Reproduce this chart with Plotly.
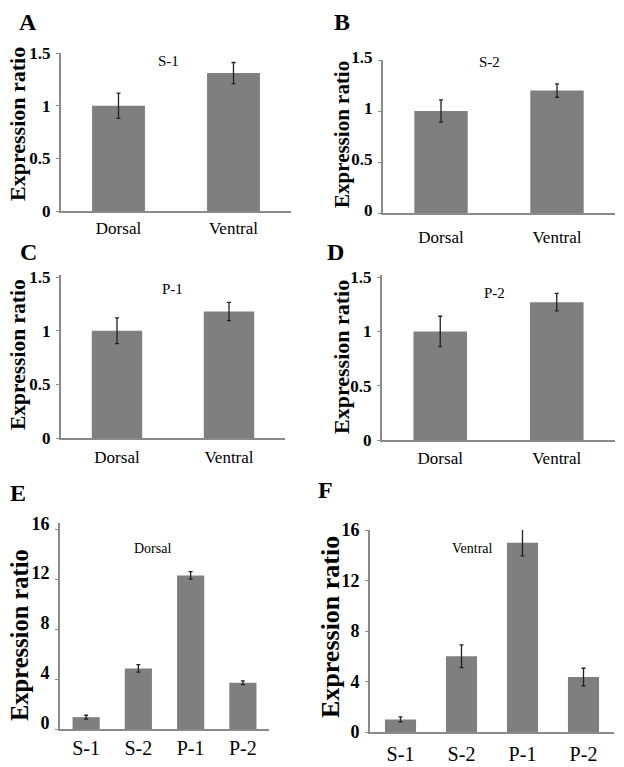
import plotly.graph_objects as go

# ---------------- data ----------------
regions = ["Dorsal", "Ventral"]
s1_values = [1.0, 1.31]
s1_errors = [0.12, 0.10]
s2_values = [1.0, 1.2]
s2_errors = [0.11, 0.065]
p1_values = [1.0, 1.18]
p1_errors = [0.12, 0.085]
p2_values = [1.0, 1.27]
p2_errors = [0.14, 0.08]

genes = ["S-1", "S-2", "P-1", "P-2"]
dorsal_values = [0.95, 4.85, 12.3, 3.7]
dorsal_errors = [0.15, 0.3, 0.3, 0.15]
ventral_values = [1.0, 6.0, 15.0, 4.35]
ventral_errors = [0.2, 0.9, 1.05, 0.7]

small_ticks = [0, 0.5, 1, 1.5]
small_ticktext = ["0", "0.5", "1", "1.5"]
big_ticks = [0, 4, 8, 12, 16]
big_ticktext = ["0", "4", "8", "12", "16"]

W, H = 624, 767
SERIF = "Liberation Serif, Times New Roman, Times, serif"
BAR = "#7f7f7f"
AXIS = "#8a8a8a"


def fx(px):
    return px / W


def fy(py):
    return 1 - py / H


# panel layout specs (pixel geometry in the 624x767 view)
panels = [
    dict(letter="A", title="S-1", cats=regions, vals=s1_values, errs=s1_errors,
         x0=61, x1=291, ytop=53, ybot=211, rng=[0, 1.5], tv=small_ticks, tt=small_ticktext,
         gap=0.54, lx=28, ly=22, tx=168, ty=61, yt_x=18, yt_y=124, yt_size=22,
         tick_size=17, xtick_size=17, xstand=1, tshift=0, title_size=15),
    dict(letter="B", title="S-2", cats=regions, vals=s2_values, errs=s2_errors,
         x0=383, x1=615, ytop=60, ybot=213, rng=[0, 1.5], tv=small_ticks, tt=small_ticktext,
         gap=0.54, lx=342, ly=22, tx=489, ty=62, yt_x=342, yt_y=135, yt_size=21,
         tick_size=17, xtick_size=17, xstand=8, tshift=-3, title_size=15),
    dict(letter="C", title="P-1", cats=regions, vals=p1_values, errs=p1_errors,
         x0=61, x1=285, ytop=275, ybot=438, rng=[0, 1.52], tv=small_ticks, tt=small_ticktext,
         gap=0.55, lx=28, ly=252, tx=172, ty=289, yt_x=18, yt_y=355, yt_size=21.5,
         tick_size=17, xtick_size=17, xstand=3, tshift=0, title_size=15),
    dict(letter="D", title="P-2", cats=regions, vals=p2_values, errs=p2_errors,
         x0=382, x1=615, ytop=275, ybot=440, rng=[0, 1.52], tv=small_ticks, tt=small_ticktext,
         gap=0.54, lx=335, ly=252, tx=494, ty=293, yt_x=342, yt_y=357, yt_size=22,
         tick_size=17, xtick_size=17, xstand=2, tshift=0, title_size=15),
    dict(letter="E", title="Dorsal", cats=genes, vals=dorsal_values, errs=dorsal_errors,
         x0=60, x1=269, ytop=523, ybot=729, rng=[0, 16.5], tv=big_ticks, tt=big_ticktext,
         gap=0.48, lx=18, ly=493, tx=152, ty=548, yt_x=19, yt_y=635, yt_size=24.5,
         tick_size=18, xtick_size=20, xstand=0, tshift=-6, title_size=14),
    dict(letter="F", title="Ventral", cats=genes, vals=ventral_values, errs=ventral_errors,
         x0=370, x1=614, ytop=530, ybot=732, rng=[0, 16.0], tv=big_ticks, tt=big_ticktext,
         gap=0.49, lx=325, ly=490, tx=472, ty=548, yt_x=330, yt_y=627, yt_size=26,
         tick_size=18, xtick_size=20, xstand=3, tshift=0, title_size=14),
]

fig = go.Figure()
annotations = []
layout = {}

for i, p in enumerate(panels, start=1):
    xa = "x" if i == 1 else f"x{i}"
    ya = "y" if i == 1 else f"y{i}"
    fig.add_trace(go.Bar(
        x=p["cats"], y=p["vals"], xaxis=xa, yaxis=ya,
        width=1 - p["gap"],
        marker=dict(color=BAR, line=dict(width=0)),
        error_y=dict(type="data", array=p["errs"], visible=True,
                     color="#222222", thickness=1.3, width=2),
        showlegend=False, hoverinfo="skip",
    ))
    xkey = "xaxis" if i == 1 else f"xaxis{i}"
    ykey = "yaxis" if i == 1 else f"yaxis{i}"
    layout[xkey] = dict(
        domain=[fx(p["x0"]), fx(p["x1"])], anchor=ya, automargin=False,
        showline=True, linecolor=AXIS, linewidth=2, ticks="",
        showgrid=False, zeroline=False, fixedrange=True,
        tickfont=dict(family=SERIF, size=p["xtick_size"], color="black"),
        ticklabelstandoff=p["xstand"],
    )
    layout[ykey] = dict(
        domain=[fy(p["ybot"]), fy(p["ytop"])], anchor=xa, automargin=False,
        range=p["rng"], showline=True, linecolor=AXIS, linewidth=2,
        ticks="outside", ticklen=3, tickcolor=AXIS, tickwidth=1,
        tickvals=p["tv"], ticktext=p["tt"],
        showgrid=False, zeroline=False, fixedrange=True,
        tickfont=dict(family=SERIF, size=p["tick_size"], color="black", weight="bold"),
        ticklabelstandoff=2, ticklabelshift=p["tshift"],
    )
    annotations.append(dict(
        text=f"<b>{p['letter']}</b>", x=fx(p["lx"]), y=fy(p["ly"]),
        xref="paper", yref="paper", showarrow=False,
        xanchor="center", yanchor="middle",
        font=dict(family=SERIF, size=24, color="black"),
    ))
    annotations.append(dict(
        text=p["title"], x=fx(p["tx"]), y=fy(p["ty"]),
        xref="paper", yref="paper", showarrow=False,
        xanchor="center", yanchor="middle",
        font=dict(family=SERIF, size=p["title_size"], color="black"),
    ))
    annotations.append(dict(
        text="<b>Expression ratio</b>", x=fx(p["yt_x"]), y=fy(p["yt_y"]),
        xref="paper", yref="paper", showarrow=False, textangle=-90,
        xanchor="center", yanchor="middle",
        font=dict(family=SERIF, size=p["yt_size"], color="black"),
    ))

fig.update_layout(
    template="none",
    width=W, height=H,
    margin=dict(l=0, r=0, t=0, b=0, pad=0, autoexpand=False),
    paper_bgcolor="white", plot_bgcolor="white",
    showlegend=False,
    annotations=annotations,
    **layout,
)

# remove the browser's default 8px body margin so the figure fills the window
fig.write_html(
    "out.html",
    config={"displayModeBar": False, "staticPlot": True},
    post_script="document.body.style.margin='0px';",
)
